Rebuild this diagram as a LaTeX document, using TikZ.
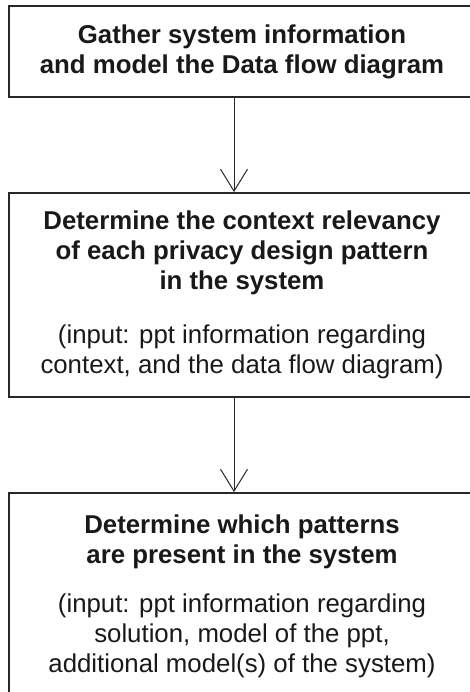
\documentclass[tikz,border=0pt]{standalone}
\usepackage{fontspec}
\setmainfont{Liberation Sans}
\usetikzlibrary{arrows.meta,positioning}
\definecolor{framecolor}{RGB}{40,40,40}
\definecolor{textcolor}{RGB}{25,25,25}

\begin{document}
\begin{tikzpicture}[
  x=1pt, y=-1pt,
  stage/.style={
    draw=framecolor,
    line width=1.8pt,
    minimum width=466pt,
    inner sep=0pt,
    align=center,
    text=textcolor,
    font=\fontsize{25.8}{30}\selectfont
  },
  flow/.style={
    draw=framecolor,
    line width=1pt,
    -{Straight Barb[length=22pt,width=27pt,line width=1pt]}
  }
]
\useasboundingbox (0,0) rectangle (470,692);

% -------- Step 1 --------
\node[stage, minimum height=91pt] (gather) at (242,51.5)
{\bfseries Gather system information\\
\bfseries and model the Data flow diagram};

% -------- Step 2 --------
\node[stage, minimum height=204pt] (context) at (242,295)
{\bfseries Determine the context relevancy\\
\bfseries of each privacy design pattern\\
\bfseries in the system\\[24pt]
(input: ppt information regarding\\
context, and the data flow diagram)};

% -------- Step 3 --------
\node[stage, minimum height=206pt] (present) at (242,596)
{\bfseries Determine which patterns\\
\bfseries are present in the system\\[19pt]
(input: ppt information regarding\\
solution, model of the ppt,\\
additional model(s) of the system)};

% -------- Connectors --------
\draw[flow] ([xshift=-8pt]gather.south) -- ([xshift=-8pt]context.north);
\draw[flow] ([xshift=-8pt]context.south) -- ([xshift=-8pt]present.north);

\end{tikzpicture}
\end{document}
